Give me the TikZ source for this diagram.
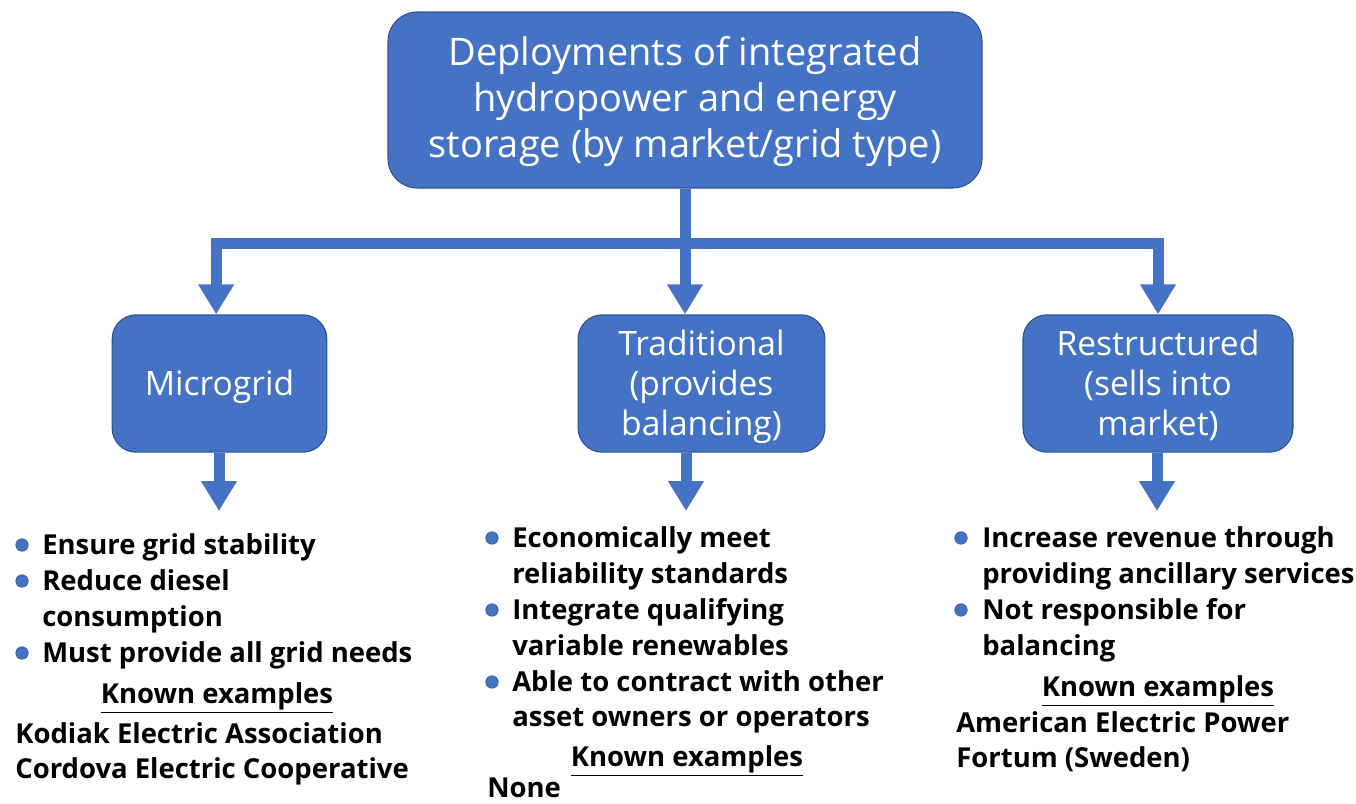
\documentclass[tikz,border=0pt]{standalone}
\usepackage{fontspec}
\setmainfont{Open Sans}
\usetikzlibrary{arrows.meta}
\definecolor{boxblue}{HTML}{4472C4}
\definecolor{edgeblue}{HTML}{2F528F}
\tikzset{
  box/.style = {draw=edgeblue, line width=0.8pt, fill=boxblue, rounded corners=18pt,
    text=white, align=center, inner sep=0pt},
  flow/.style = {draw=boxblue, line width=8.25pt, line join=miter,
    -{Triangle[width=25.5pt, length=22.5pt]}},
  txt/.style = {anchor=mid west, inner sep=0pt, font=\fontsize{20.6}{27}\bfseries\selectfont},
  dot/.style = {fill=boxblue, draw=edgeblue, line width=0.4pt}
}

\begin{document}
\begin{tikzpicture}[x=0.75pt, y=-0.75pt]
   \useasboundingbox (0,0) rectangle (1356,803);
   \node[box, minimum width=445.5pt, minimum height=132pt, rounded corners=22pt,
      text depth=4pt, font=\fontsize{28.5}{34.5}\selectfont] (top) at (685,100)
      {Deployments of integrated\\hydropower and energy\\storage (by market/grid type)};
   \node[box, minimum width=161pt, minimum height=103pt, text depth=1.5pt,
      font=\fontsize{25.2}{30}\selectfont] (mg) at (219.5,383.5) {Microgrid};
   \node[box, minimum width=185pt, minimum height=103pt, text depth=1.5pt,
      font=\fontsize{25.2}{30}\selectfont] (trad) at (701.5,383.5) {Traditional\\(provides\\balancing)};
   \node[box, minimum width=202.5pt, minimum height=103pt, text depth=1.5pt,
      font=\fontsize{25.2}{30}\selectfont] (rest) at (1158,383.5) {Restructured\\(sells into\\market)};

   \coordinate (bar) at (685,243);
   \draw[flow] (top.south) |- ([xshift=-2.5pt]mg.north |- bar) -- ([xshift=-2.5pt]mg.north);
   \draw[flow] (top.south) -- (top.south |- trad.north);
   \draw[flow] (top.south) |- (rest.north |- bar) -- (rest.north);

   \coordinate (mgtip) at (219,511);
   \coordinate (tradtip) at (686,511);
   \coordinate (resttip) at (1157,511);
   \draw[flow] (mg.south -| mgtip) -- (mgtip);
   \draw[flow] (trad.south -| tradtip) -- (tradtip);
   \draw[flow] (rest.south -| resttip) -- (resttip);

   % microgrid
   \fill[dot] (22,545) circle [radius=4.7pt];
   \fill[dot] (22,581) circle [radius=4.7pt];
   \fill[dot] (22,653) circle [radius=4.7pt];
   \node[txt] (mg1) at (42,551) {Ensure grid stability};
   \node[txt] (mg2) at (42,587) {Reduce diesel};
   \node[txt] (mg3) at (42,623) {consumption};
   \node[txt] (mg4) at (42,659) {Must provide all grid needs};
   \node[txt, anchor=mid] (mgknown) at (217,700) {\underline{Known examples}};
   \node[txt] (mgex1) at (15,740) {Kodiak Electric Association};
   \node[txt] (mgex2) at (15,775) {Cordova Electric Cooperative};

   % traditional
   \fill[dot] (492,538) circle [radius=4.7pt];
   \fill[dot] (492,610) circle [radius=4.7pt];
   \fill[dot] (492,682) circle [radius=4.7pt];
   \node[txt] (tr1) at (512,544) {Economically meet};
   \node[txt] (tr2) at (512,580) {reliability standards};
   \node[txt] (tr3) at (512,616) {Integrate qualifying};
   \node[txt] (tr4) at (512,652) {variable renewables};
   \node[txt] (tr5) at (512,688) {Able to contract with other};
   \node[txt] (tr6) at (512,723) {asset owners or operators};
   \node[txt, anchor=mid] (trknown) at (687,763) {\underline{Known examples}};
   \node[txt] (trex1) at (487,793.5) {None};

   % restructured
   \fill[dot] (961,538) circle [radius=4.7pt];
   \fill[dot] (961,610) circle [radius=4.7pt];
   \node[txt] (rs1) at (982,544) {Increase revenue through};
   \node[txt] (rs2) at (982,580) {providing ancillary services};
   \node[txt] (rs3) at (982,616) {Not responsible for};
   \node[txt] (rs4) at (982,652) {balancing};
   \node[txt, anchor=mid] (rsknown) at (1158,693) {\underline{Known examples}};
   \node[txt] (rsex1) at (956,729) {American Electric Power};
   \node[txt] (rsex2) at (956,764) {Fortum (Sweden)};
\end{tikzpicture}
\end{document}
